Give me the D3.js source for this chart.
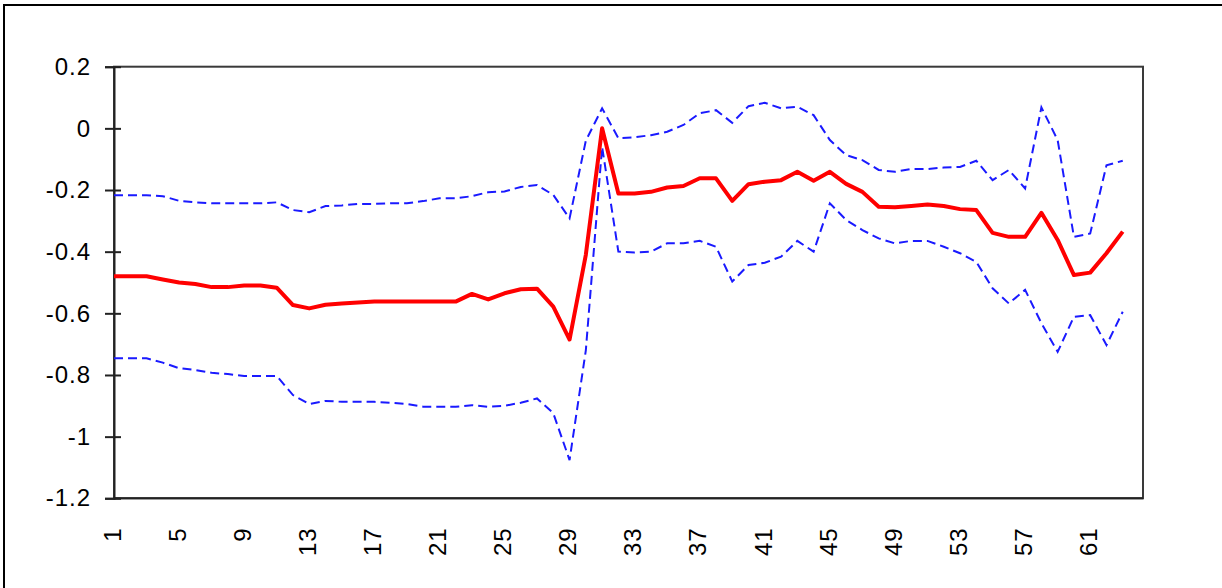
<!DOCTYPE html>
<html>
<head>
<meta charset="utf-8">
<script src="https://cdn.jsdelivr.net/npm/d3@7"></script>
<style>
  html, body { margin: 0; padding: 0; background: #fff; }
  svg { display: block; }
  text { font-family: "Liberation Sans", Arial, sans-serif; font-size: 24px; fill: #000; letter-spacing: 1px; }
</style>
</head>
<body>
<svg id="chart" width="1222" height="588"></svg>
<script>
// Category positions 1..64 along the bottom axis
const categories = d3.range(1, 65);
const xTickLabels = [1, 5, 9, 13, 17, 21, 25, 29, 33, 37, 41, 45, 49, 53, 57, 61];
const yTickValues = [0.2, 0, -0.2, -0.4, -0.6, -0.8, -1, -1.2];

// Central estimate
const meanValues = [
  -0.48, -0.48, -0.48, -0.49, -0.50, -0.505, -0.515, -0.515, -0.51, -0.51,
  -0.517, -0.573, -0.584, -0.572, -0.568, -0.565, -0.562, -0.562, -0.562, -0.562,
  -0.562, -0.562, -0.537, -0.555, -0.535, -0.522, -0.52, -0.578, -0.685, -0.41,
  0.0, -0.211, -0.211, -0.206, -0.192, -0.187, -0.162, -0.162, -0.235, -0.181,
  -0.173, -0.168, -0.141, -0.170, -0.141, -0.18, -0.206, -0.254, -0.256, -0.252,
  -0.247, -0.252, -0.262, -0.265, -0.339, -0.352, -0.352, -0.274, -0.362, -0.476,
  -0.468, -0.405, -0.335
];

// Upper band
const upperValues = [
  -0.217, -0.217, -0.217, -0.22, -0.235, -0.24, -0.243, -0.243, -0.243, -0.243,
  -0.24, -0.265, -0.272, -0.252, -0.25, -0.245, -0.245, -0.243, -0.243, -0.236,
  -0.227, -0.227, -0.22, -0.207, -0.205, -0.19, -0.184, -0.216, -0.292, -0.04,
  0.065, -0.032, -0.029, -0.022, -0.011, 0.011, 0.049, 0.059, 0.018, 0.072,
  0.083, 0.065, 0.07, 0.043, -0.038, -0.087, -0.103, -0.135, -0.141, -0.132,
  -0.132, -0.127, -0.125, -0.105, -0.168, -0.135, -0.195, 0.068, -0.038, -0.352,
  -0.341, -0.12, -0.105
];

// Lower band
const lowerValues = [
  -0.746, -0.746, -0.746, -0.76, -0.778, -0.784, -0.793, -0.797, -0.803, -0.803,
  -0.803, -0.865, -0.894, -0.884, -0.887, -0.887, -0.887, -0.89, -0.894, -0.903,
  -0.903, -0.903, -0.898, -0.903, -0.9, -0.89, -0.876, -0.924, -1.076, -0.72,
  -0.06, -0.40, -0.403, -0.40, -0.373, -0.373, -0.365, -0.384, -0.497, -0.443,
  -0.436, -0.416, -0.365, -0.40, -0.243, -0.297, -0.33, -0.357, -0.373, -0.365,
  -0.365, -0.384, -0.405, -0.433, -0.519, -0.568, -0.524, -0.632, -0.725, -0.611,
  -0.606, -0.703, -0.595
];

const svg = d3.select("#chart");

// Outer chart frame (runs past the right and bottom edges)
svg.append("rect")
  .attr("x", 4).attr("y", 5)
  .attr("width", 1240).attr("height", 600)
  .attr("fill", "#fff").attr("stroke", "#000").attr("stroke-width", 2);

const plot = { left: 114, top: 66.7, right: 1143, bottom: 498.3 };
const step = 16.27;

const x = d3.scaleLinear()
  .domain([categories[0], categories[categories.length - 1]])
  .range([plot.left, plot.left + step * (categories.length - 1)]);

const y = d3.scaleLinear()
  .domain([-1.2, 0.2])
  .range([plot.bottom, plot.top]);

// Plot area border
svg.append("rect")
  .attr("x", plot.left).attr("y", plot.top)
  .attr("width", plot.right - plot.left).attr("height", plot.bottom - plot.top)
  .attr("fill", "none").attr("stroke", "#3a3a3a").attr("stroke-width", 2);

// Value axis with ticks crossing the axis line
const yAxis = svg.append("g")
  .attr("transform", `translate(${plot.left},0)`)
  .call(d3.axisLeft(y)
    .tickValues(yTickValues)
    .tickSize(9)
    .tickPadding(14)
    .tickFormat(d => String(+d.toFixed(1))));
yAxis.select(".domain").attr("stroke", "#222").attr("stroke-width", 2);
yAxis.selectAll(".tick line").attr("x1", 7).attr("stroke", "#222").attr("stroke-width", 2);
yAxis.selectAll(".tick text")
  .attr("font-family", null).attr("font-size", null).attr("fill", "#000");
yAxis.attr("font-family", null).attr("font-size", null);

// Category axis with vertical labels
const xAxis = svg.append("g")
  .attr("transform", `translate(0,${plot.bottom})`)
  .call(d3.axisBottom(x).tickValues(xTickLabels).tickSize(0).tickFormat(d => String(d)));
xAxis.attr("font-family", null).attr("font-size", null);
xAxis.select(".domain")
  .attr("d", `M${plot.left},0H${plot.right}`)
  .attr("stroke", "#222").attr("stroke-width", 2);
xAxis.selectAll(".tick text")
  .attr("transform", "rotate(-90)")
  .attr("text-anchor", "end")
  .attr("x", -29).attr("y", 0).attr("dy", "0.26em")
  .attr("fill", "#000");

const line = d3.line()
  .x((d, i) => x(categories[i]))
  .y(d => y(d));

const clip = svg.append("defs").append("clipPath").attr("id", "plotclip")
  .append("rect")
  .attr("x", plot.left).attr("y", plot.top - 4)
  .attr("width", plot.right - plot.left).attr("height", plot.bottom - plot.top + 8);

const lines = svg.append("g").attr("clip-path", "url(#plotclip)");

lines.append("path")
  .datum(upperValues)
  .attr("d", line)
  .attr("fill", "none")
  .attr("stroke", "#1a1aff")
  .attr("stroke-width", 2)
  .attr("stroke-dasharray", "9,5");

lines.append("path")
  .datum(lowerValues)
  .attr("d", line)
  .attr("fill", "none")
  .attr("stroke", "#1a1aff")
  .attr("stroke-width", 2)
  .attr("stroke-dasharray", "9,5");

lines.append("path")
  .datum(meanValues)
  .attr("d", line)
  .attr("fill", "none")
  .attr("stroke", "#ff0000")
  .attr("stroke-width", 4)
  .attr("stroke-linejoin", "round");
</script>
</body>
</html>
